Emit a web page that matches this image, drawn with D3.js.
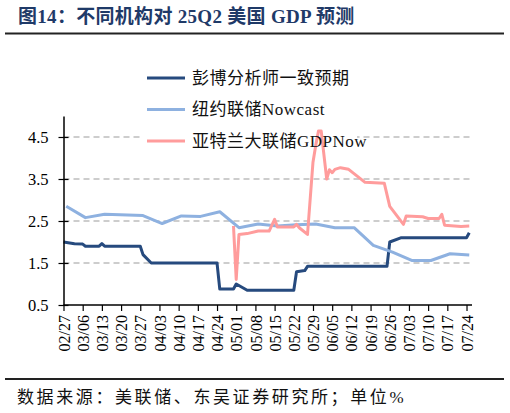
<!DOCTYPE html>
<html>
<head>
<meta charset="utf-8">
<script src="https://cdn.jsdelivr.net/npm/d3@7"></script>
<style>
  body { margin: 0; background: #fff; }
  svg text { font-family: 'Liberation Serif', 'Noto Sans CJK SC', serif; }
</style>
</head>
<body>
<div id="chart"></div>
<script>
// series (dates are 2025, MM/DD)
const bbgDates = ['02/27','03/03','03/06','03/07','03/12','03/13','03/14','03/27','03/28','03/31',
  '04/24','04/25','04/30','05/01','05/05','05/22','05/23','05/26','05/27','06/25','06/26','06/30','07/24','07/25'];
const bbgValues = [2.0,1.96,1.95,1.9,1.9,1.96,1.9,1.9,1.7,1.5,
  1.5,0.88,0.88,1.0,0.85,0.85,1.29,1.32,1.42,1.42,2.0,2.1,2.1,2.22];

const nowcastDates = ['02/28','03/07','03/14','03/28','04/04','04/11','04/18','04/25','05/02','05/09',
  '05/16','05/23','05/30','06/06','06/13','06/20','06/27','07/04','07/11','07/18','07/25'];
const nowcastValues = [2.85,2.58,2.66,2.63,2.44,2.62,2.61,2.72,2.34,2.43,
  2.38,2.41,2.43,2.34,2.34,1.92,1.76,1.56,1.56,1.72,1.69];

const gdpnowDates = ['04/30','05/01','05/02','05/05','05/09','05/13','05/15','05/16','05/22','05/23',
  '05/24','05/27','05/29','05/30','05/31','06/01','06/03','06/04','06/05','06/06','06/08','06/11',
  '06/17','06/24','06/26','07/01','07/02','07/08','07/10','07/14','07/15','07/16','07/22','07/25'];
const gdpnowValues = [2.38,1.11,2.18,2.2,2.26,2.26,2.54,2.36,2.36,2.42,
  2.34,2.18,3.9,4.3,4.64,4.64,3.5,3.72,3.65,3.73,3.77,3.73,
  3.42,3.4,2.85,2.42,2.62,2.6,2.56,2.56,2.66,2.4,2.37,2.38];

const seriesNames = ['彭博分析师一致预期', '纽约联储Nowcast', '亚特兰大联储GDPNow'];
const xTickLabels = ['02/27','03/06','03/13','03/20','03/27','04/03','04/10','04/17','04/24','05/01','05/08',
  '05/15','05/22','05/29','06/05','06/12','06/19','06/26','07/03','07/10','07/17','07/24'];
const yTicks = [0.5, 1.5, 2.5, 3.5, 4.5];
const titleText = '图14：不同机构对 25Q2 美国 GDP 预测';
const sourceText = '数据来源：美联储、东吴证券研究所；单位%';

const W = 510, H = 413;
const parse = d3.timeParse('%Y/%m/%d');
const toDate = s => parse('2025/' + s);

const colors = ['#264a7e', '#8eb1e0', '#ff9c9c'];

const series = [
  bbgDates.map((d, i) => ({date: toDate(d), value: bbgValues[i]})),
  nowcastDates.map((d, i) => ({date: toDate(d), value: nowcastValues[i]})),
  gdpnowDates.map((d, i) => ({date: toDate(d), value: gdpnowValues[i]}))
];

const plot = {left: 63.5, right: 472, top: 116, bottom: 305};

const sx = d3.scaleTime()
  .domain([toDate('02/27'), toDate('07/26')])
  .range([plot.left, plot.right]);
const sy = d3.scaleLinear()
  .domain([0.5, 5])
  .range([plot.bottom, plot.top]);

const svg = d3.select('#chart').append('svg')
  .attr('width', W)
  .attr('height', H);

// title
svg.append('text')
  .attr('x', 18).attr('y', 23)
  .attr('fill', '#1f3a68')
  .style('font-size', '19px')
  .style('font-weight', 'bold')
  .style('letter-spacing', '0.3px')
  .text(titleText);

svg.append('line')
  .attr('x1', 5).attr('x2', 504)
  .attr('y1', 33.5).attr('y2', 33.5)
  .attr('stroke', '#222').attr('stroke-width', 2);

// grid
svg.append('g').attr('class', 'grid')
  .selectAll('line')
  .data(yTicks.slice(1))
  .join('line')
    .attr('x1', plot.left).attr('x2', plot.right)
    .attr('y1', d => sy(d)).attr('y2', d => sy(d))
    .attr('stroke', '#bdbdbd')
    .attr('stroke-width', 1.5)
    .attr('stroke-dasharray', '6,4');

// legend background covers the grid a bit
svg.append('rect')
  .attr('x', 143).attr('y', 64)
  .attr('width', 214).attr('height', 92)
  .attr('fill', '#fff');

// lines
const line = d3.line()
  .x(d => sx(d.date))
  .y(d => sy(d.value));

svg.append('g').attr('class', 'series')
  .selectAll('path')
  .data(series)
  .join('path')
    .attr('d', line)
    .attr('fill', 'none')
    .attr('stroke', (d, i) => colors[i])
    .attr('stroke-width', 3)
    .attr('stroke-linejoin', 'round');

// axes
const yAxis = d3.axisLeft(sy)
  .tickValues(yTicks)
  .tickSize(0)
  .tickPadding(15)
  .tickFormat(d3.format('.1f'));

const yg = svg.append('g')
  .attr('class', 'y axis')
  .attr('transform', `translate(${plot.left},0)`)
  .call(yAxis);
yg.select('.domain').attr('stroke', '#000').attr('stroke-width', 1.5);
yg.selectAll('.tick line').remove();
yg.selectAll('.tick').append('line')
  .attr('x1', -5).attr('x2', 5)
  .attr('stroke', '#000').attr('stroke-width', 1.2);
yg.selectAll('.tick text')
  .attr('fill', '#000')
  .style('font-size', '16.5px')
  .style('font-family', "'Liberation Serif', serif");

const xAxis = d3.axisBottom(sx)
  .tickValues(xTickLabels.map(toDate))
  .tickSize(6)
  .tickFormat(d3.timeFormat('%m/%d'));

const xg = svg.append('g')
  .attr('class', 'x axis')
  .attr('transform', `translate(0,${plot.bottom})`)
  .call(xAxis);
xg.select('.domain').attr('stroke', '#000').attr('stroke-width', 1.5)
  .attr('d', `M${plot.left},0H${plot.right}`);
xg.selectAll('.tick line').attr('stroke', '#000').attr('stroke-width', 1.2);
xg.selectAll('.tick text')
  .attr('fill', '#000')
  .style('font-size', '16px')
  .style('font-family', "'Liberation Serif', serif")
  .attr('transform', 'rotate(-90)')
  .attr('text-anchor', 'end')
  .attr('x', -10)
  .attr('y', 0)
  .attr('dy', '0.35em');

// legend
const legend = svg.append('g').attr('class', 'legend')
  .selectAll('g')
  .data(seriesNames)
  .join('g')
    .attr('transform', (d, i) => `translate(147,${78 + i * 31.5})`);

legend.append('line')
  .attr('x1', 0).attr('x2', 38)
  .attr('stroke', (d, i) => colors[i])
  .attr('stroke-width', 3);

legend.append('text')
  .attr('x', 45)
  .attr('dy', '0.35em')
  .attr('fill', '#111')
  .style('font-size', '17px')
  .style('letter-spacing', '0.5px')
  .text(d => d);

// source footer
svg.append('line')
  .attr('x1', 5).attr('x2', 504)
  .attr('y1', 379).attr('y2', 379)
  .attr('stroke', '#222').attr('stroke-width', 2);

svg.append('text')
  .attr('x', 17).attr('y', 403)
  .attr('fill', '#111')
  .style('font-size', '17px')
  .style('letter-spacing', '2.6px')
  .text(sourceText);
</script>
</body>
</html>
